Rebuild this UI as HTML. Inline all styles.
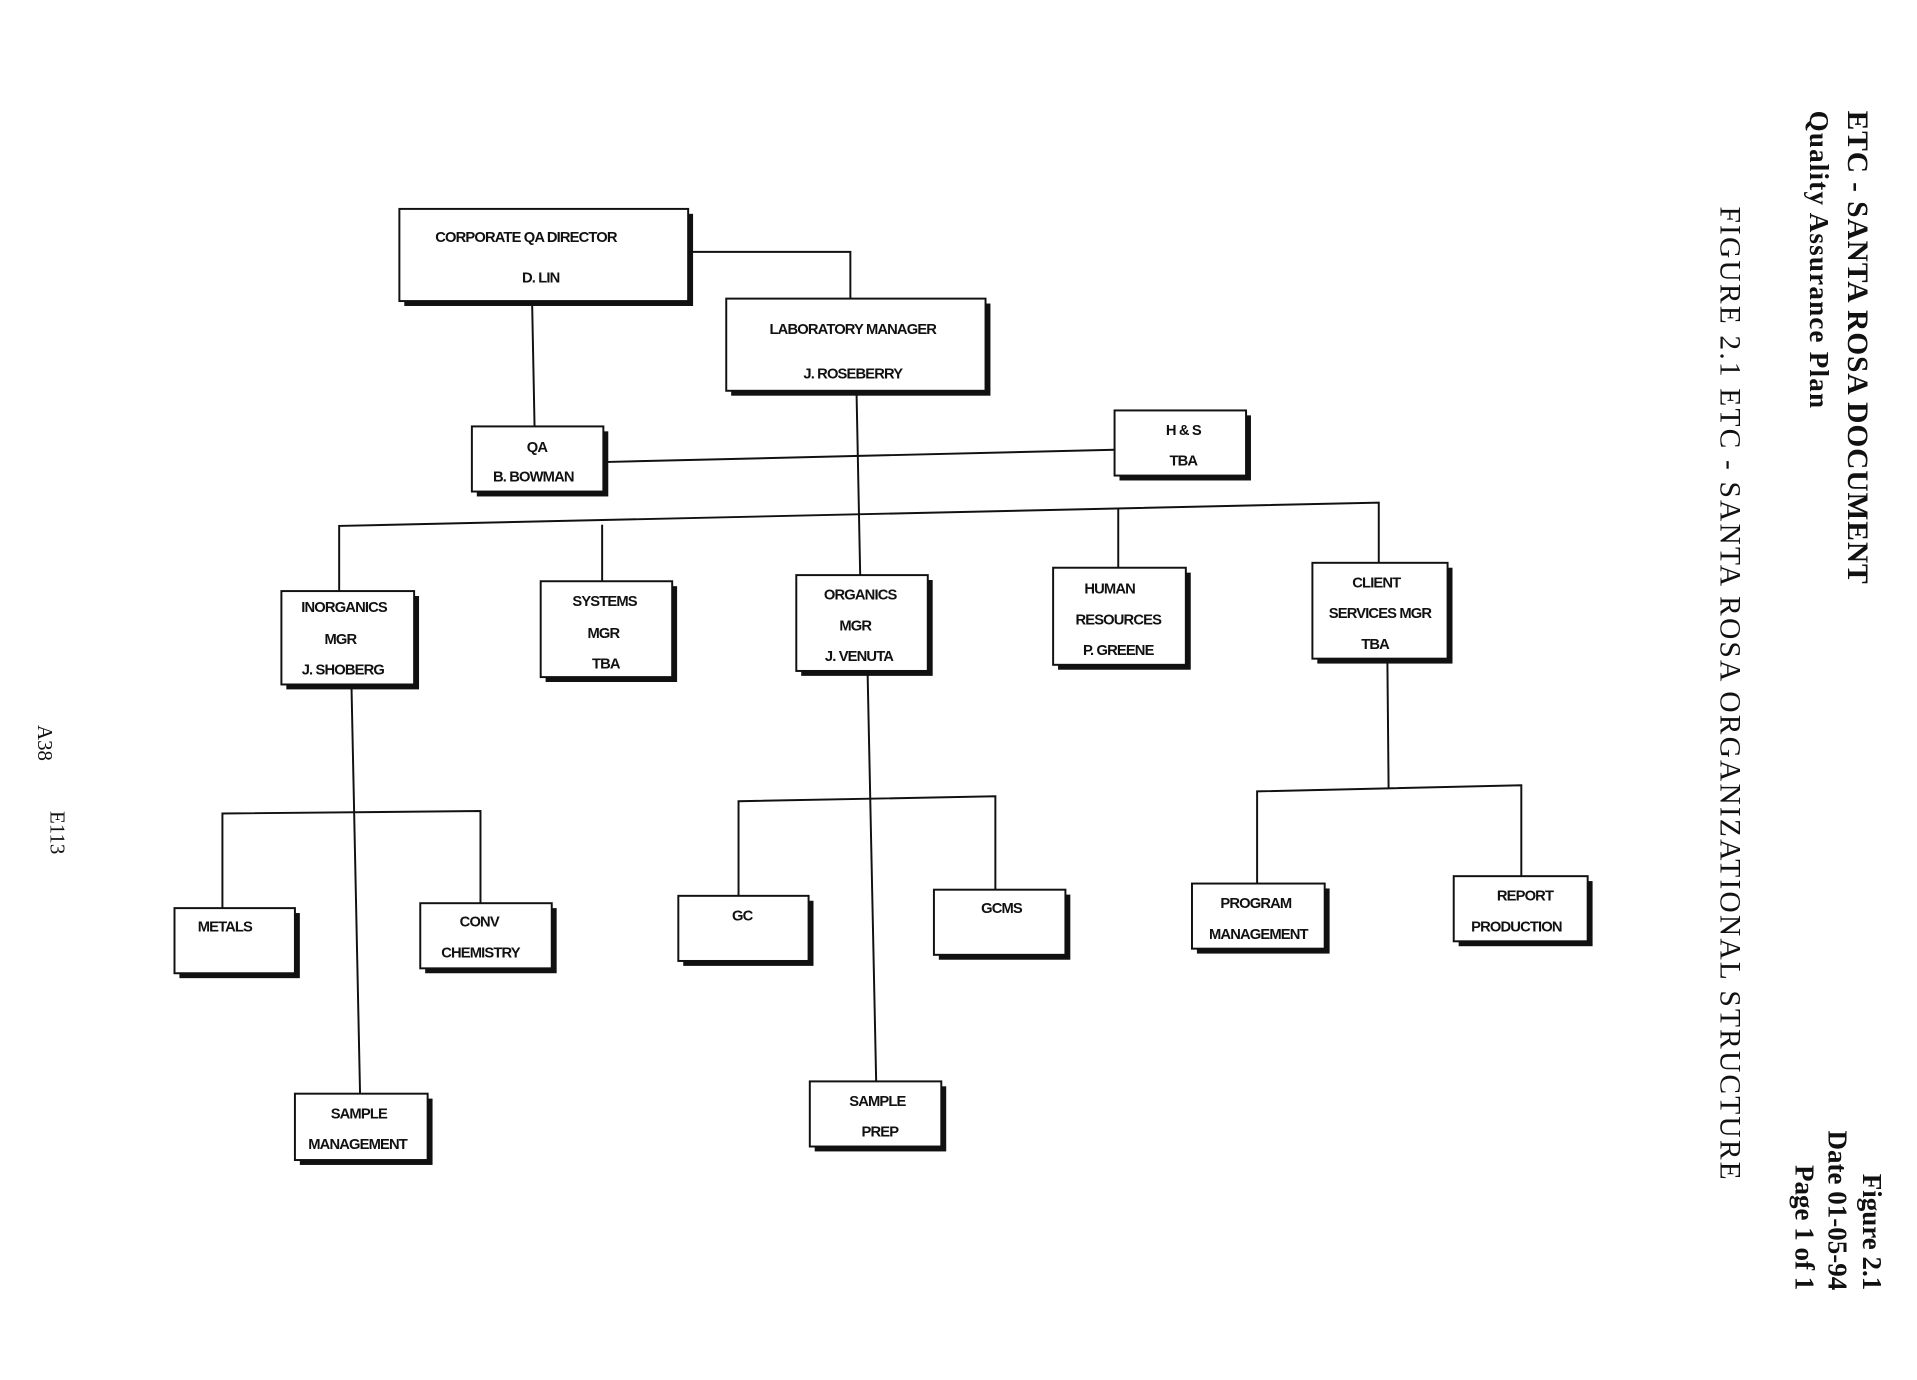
<!DOCTYPE html>
<html><head><meta charset="utf-8"><style>
html,body{margin:0;padding:0;background:#fff;}
svg{display:block}
.b{font-family:"Liberation Sans",sans-serif;font-weight:bold;font-size:12px;letter-spacing:-0.7px;text-anchor:middle;fill:#111}
.s{font-family:"Liberation Serif",serif;fill:#111}
</style></head><body>
<svg width="1917" height="1380" viewBox="0 0 1560 1123" xmlns="http://www.w3.org/2000/svg">
<g stroke="#111" stroke-width="1.6" fill="none">
<polyline points="560,205 692,205 692,243"/>
<line x1="433" y1="245" x2="435" y2="347"/>
<line x1="491" y1="376" x2="907" y2="366"/>
<line x1="697" y1="318" x2="700" y2="468"/>
<polyline points="276,481 276,428 1122,409 1122,458"/>
<line x1="490" y1="427" x2="490" y2="473"/>
<line x1="910" y1="414" x2="910" y2="462"/>
<line x1="286" y1="557" x2="293" y2="890"/>
<polyline points="181,739 181,662 391,660 391,735"/>
<line x1="706" y1="546" x2="713" y2="880"/>
<polyline points="601,729 601,652 810,648 810,724"/>
<line x1="1129" y1="536" x2="1130" y2="641"/>
<polyline points="1023,719 1023,644 1238,639 1238,713"/>
</g>
<g fill="#111">
<rect x="329" y="174" width="235" height="75"/>
<rect x="595" y="247" width="211" height="75"/>
<rect x="388" y="351" width="107" height="53"/>
<rect x="911" y="338" width="107" height="53"/>
<rect x="233" y="485" width="108" height="76"/>
<rect x="444" y="477" width="107" height="78"/>
<rect x="652" y="472" width="107" height="78"/>
<rect x="861" y="466" width="108" height="79"/>
<rect x="1072" y="462" width="110" height="78"/>
<rect x="146" y="743" width="98" height="53"/>
<rect x="346" y="739" width="107" height="53"/>
<rect x="556" y="733" width="106" height="53"/>
<rect x="764" y="728" width="107" height="53"/>
<rect x="974" y="723" width="108" height="53"/>
<rect x="1187" y="717" width="109" height="53"/>
<rect x="244" y="894" width="108" height="54"/>
<rect x="663" y="884" width="107" height="53"/>
</g>
<g fill="#fff" stroke="#111" stroke-width="1.6">
<rect x="325" y="170" width="235" height="75"/>
<rect x="591" y="243" width="211" height="75"/>
<rect x="384" y="347" width="107" height="53"/>
<rect x="907" y="334" width="107" height="53"/>
<rect x="229" y="481" width="108" height="76"/>
<rect x="440" y="473" width="107" height="78"/>
<rect x="648" y="468" width="107" height="78"/>
<rect x="857" y="462" width="108" height="79"/>
<rect x="1068" y="458" width="110" height="78"/>
<rect x="142" y="739" width="98" height="53"/>
<rect x="342" y="735" width="107" height="53"/>
<rect x="552" y="729" width="106" height="53"/>
<rect x="760" y="724" width="107" height="53"/>
<rect x="970" y="719" width="108" height="53"/>
<rect x="1183" y="713" width="109" height="53"/>
<rect x="240" y="890" width="108" height="54"/>
<rect x="659" y="880" width="107" height="53"/>
</g>
<g class="b">
<text x="428" y="197">CORPORATE QA DIRECTOR</text><text x="440" y="230">D. LIN</text>
<text x="694" y="272">LABORATORY MANAGER</text><text x="694" y="308">J. ROSEBERRY</text>
<text x="437" y="368">QA</text><text x="434" y="392">B. BOWMAN</text>
<text x="963" y="354">H &amp; S</text><text x="963" y="379">TBA</text>
<text x="280" y="498">INORGANICS</text><text x="277" y="524">MGR</text><text x="279" y="549">J.  SHOBERG</text>
<text x="492" y="493">SYSTEMS</text><text x="491" y="519">MGR</text><text x="493" y="544">TBA</text>
<text x="700" y="488">ORGANICS</text><text x="696" y="513">MGR</text><text x="699" y="538">J.  VENUTA</text>
<text x="903" y="483">HUMAN</text><text x="910" y="508">RESOURCES</text><text x="910" y="533">P.  GREENE</text>
<text x="1120" y="478">CLIENT</text><text x="1123" y="503">SERVICES MGR</text><text x="1119" y="528">TBA</text>
<text x="183" y="758">METALS</text>
<text x="390" y="754">CONV</text><text x="391" y="779">CHEMISTRY</text>
<text x="604" y="749">GC</text>
<text x="815" y="743">GCMS</text>
<text x="1022" y="739">PROGRAM</text><text x="1024" y="764">MANAGEMENT</text>
<text x="1241" y="733">REPORT</text><text x="1234" y="758">PRODUCTION</text>
<text x="292" y="910">SAMPLE</text><text x="291" y="935">MANAGEMENT</text>
<text x="714" y="900">SAMPLE</text><text x="716" y="925">PREP</text>
</g>
<g class="s" font-weight="bold">
<text transform="translate(1504,90) rotate(90)" font-size="24" textLength="385">ETC - SANTA ROSA DOCUMENT</text>
<text transform="translate(1473,90) rotate(90)" font-size="22" textLength="242">Quality Assurance Plan</text>
<text transform="translate(1400,168) rotate(90)" font-size="24" font-weight="normal" textLength="792">FIGURE 2.1 ETC - SANTA ROSA ORGANIZATIONAL STRUCTURE</text>
<text transform="translate(1516,1050) rotate(90)" font-size="22" text-anchor="end">Figure 2.1</text>
<text transform="translate(1488,1050) rotate(90)" font-size="22" text-anchor="end">Date  01-05-94</text>
<text transform="translate(1461,1050) rotate(90)" font-size="22" text-anchor="end">Page 1 of 1</text>
</g>
<g class="s" font-size="17">
<text transform="translate(31,590) rotate(90)">A38</text>
<text transform="translate(41,660) rotate(90)">E113</text>
</g>
</svg>
</body></html>
